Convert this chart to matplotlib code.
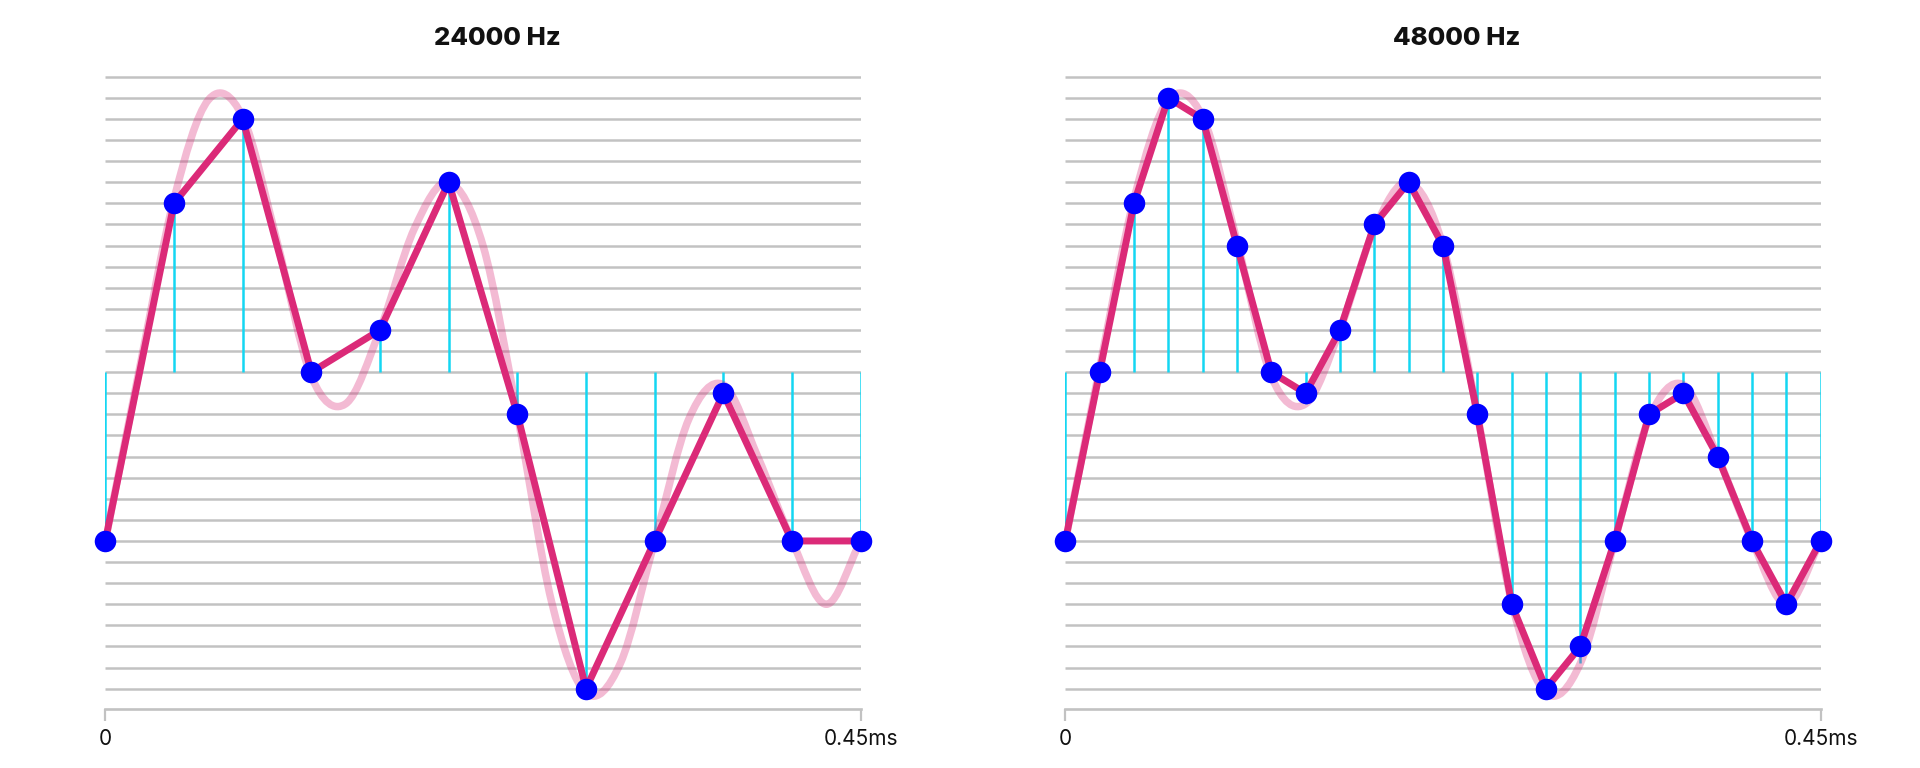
import numpy as np
import matplotlib.pyplot as plt
from matplotlib.path import Path
from matplotlib.patches import PathPatch

plt.rcParams['font.family'] = ['Inter', 'DejaVu Sans']

# %%    資料
rates = [24000, 48000]
titles = ["24000 Hz", "48000 Hz"]
x_tick_labels = ["0", "0.45ms"]

# 30 quantization levels, 0 = center line
levels = list(range(-15, 15))

# quantized samples (blue dots / red line)
samples_24k = [-8, 8, 12, 0, 2, 9, -2, -15, -8, -1, -8, -8]
samples_48k = [-8, 0, 8, 13, 12, 6, 0, -1, 2, 7, 9, 6,
               -2, -11, -15, -13, -8, -2, -1, -4, -8, -11, -8]

# analog signal (pink curve), read at the 48000 Hz sample positions
analog_48k = [-8.0, 0.2, 8.2, 12.9, 12.1, 6.2, -0.2, -1.5, 2.0, 6.8, 9.0, 6.0,
              -2.0, -10.9, -15.2, -13.8, -8.0, -2.2, -0.6, -4.0, -8.0, -11.0, -8.0]

red = "#db2a78"
cyan = "#14d6f2"
grey = "#c2c2c2"


def smooth_path(x, y):
    # catmull-rom through the points, drawn as bezier curves
    x = np.asarray(x, float)
    y = np.asarray(y, float)
    mx = np.gradient(x)
    my = np.gradient(y)
    verts = [(x[0], y[0])]
    codes = [Path.MOVETO]
    for i in range(len(x) - 1):
        verts += [(x[i] + mx[i] / 3, y[i] + my[i] / 3),
                  (x[i + 1] - mx[i + 1] / 3, y[i + 1] - my[i + 1] / 3),
                  (x[i + 1], y[i + 1])]
        codes += [Path.CURVE4] * 3
    return Path(verts, codes)


# %%    畫圖
W, H = 1920, 768
fig = plt.figure(figsize=(W / 100, H / 100), dpi=100)

duration = (len(samples_24k) - 1) / rates[0] * 1000  # ms
t_analog = np.arange(len(analog_48k)) / 48000 * 1000

for n, (rate, samples, title) in enumerate(zip(rates, [samples_24k, samples_48k], titles)):
    left = 105.3 + n * 960
    width = 755.4
    ax = fig.add_axes([left / W, 59.5 / H, width / W, 642.3 / H])

    t = np.arange(len(samples)) / rate * 1000
    step = 48000 // rate
    stems = analog_48k[::step]

    ax.hlines(levels, 0, duration, color=grey, lw=1.8, zorder=1)
    ax.vlines(t, 0, stems, color=cyan, lw=1.8, zorder=2)

    curve = PathPatch(smooth_path(t_analog, analog_48k), fill=False,
                      edgecolor=red, alpha=0.32, lw=5.4, zorder=3,
                      capstyle='round', joinstyle='round')
    ax.add_patch(curve)

    ax.plot(t, samples, color=red, lw=5.0, zorder=4,
            solid_joinstyle='round', solid_capstyle='round', clip_on=False)
    ax.plot(t, samples, 'o', color='#0000ff', ms=15.5, mew=0, zorder=5, clip_on=False)

    ax.set_xlim(0, duration)
    ax.set_ylim(-15.94, 14.5)
    ax.set_yticks([])
    ax.set_xticks([0, duration])
    ax.set_xticklabels(x_tick_labels)
    ax.tick_params(axis='x', length=8.6, width=1.6, color=grey,
                   labelsize=15, labelcolor='#111111', pad=6)
    for side in ['top', 'left', 'right']:
        ax.spines[side].set_visible(False)
    ax.spines['bottom'].set_color(grey)
    ax.spines['bottom'].set_linewidth(1.9)

    fig.text((left + width / 2 + 14) / W, 1 - 38.3 / H, title,
             ha='center', va='center', fontsize=18.5, fontweight='heavy', color='#111111')

fig.savefig("out.png", dpi=100)
